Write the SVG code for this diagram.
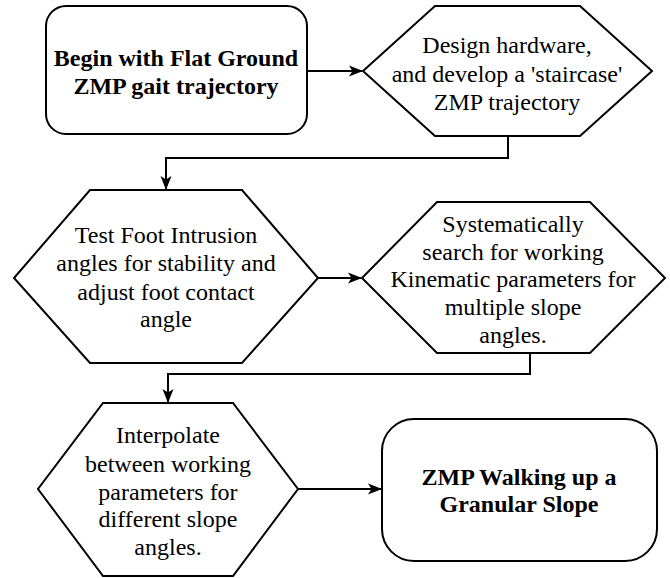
<svg xmlns="http://www.w3.org/2000/svg" width="670" height="578" viewBox="0 0 670 578">
<style>
.shape{fill:#fff;stroke:#000;stroke-width:2;stroke-linejoin:miter}
.c{fill:none;stroke:#000;stroke-width:2}
</style>
<defs>
<marker id="arr" markerUnits="userSpaceOnUse" markerWidth="14" markerHeight="12" refX="13" refY="6" orient="auto" viewBox="0 0 14 12">
<path d="M0,0.5 L14,6 L0,11.5 L3.5,6 Z" fill="#000"/>
</marker>
</defs>
<rect width="670" height="578" fill="#fff"/>
<g id="connectors">
<path class="c" d="M307,71 L362,71" marker-end="url(#arr)"/>
<path class="c" d="M508,136 L508,158 L166,158 L166,189" marker-end="url(#arr)"/>
<path class="c" d="M318,278 L361,278" marker-end="url(#arr)"/>
<path class="c" d="M530,353 L530,374 L168,374 L168,402" marker-end="url(#arr)"/>
<path class="c" d="M298,489 L381,489" marker-end="url(#arr)"/>
</g>
<g id="n1">
<rect class="shape" x="46" y="6" width="261" height="128" rx="20" ry="20"/>
<text x="176" y="66" font-family="Liberation Serif, serif" font-size="24" font-weight="bold" text-anchor="middle">Begin with Flat Ground</text>
<text x="176" y="94" font-family="Liberation Serif, serif" font-size="24" font-weight="bold" text-anchor="middle">ZMP gait trajectory</text>
</g>
<g id="n2">
<polygon class="shape" points="435,6 580,6 652,71 580,136 435,136 363,71"/>
<text x="507" y="53" font-family="Liberation Serif, serif" font-size="24" text-anchor="middle">Design hardware,</text>
<text x="507" y="82" font-family="Liberation Serif, serif" font-size="24" text-anchor="middle">and develop a 'staircase'</text>
<text x="507" y="110" font-family="Liberation Serif, serif" font-size="24" text-anchor="middle">ZMP trajectory</text>
</g>
<g id="n3">
<polygon class="shape" points="90,190 242,190 318,278 242,363 90,363 14,278"/>
<text x="166" y="243" font-family="Liberation Serif, serif" font-size="24" text-anchor="middle">Test Foot Intrusion</text>
<text x="166" y="271" font-family="Liberation Serif, serif" font-size="24" text-anchor="middle">angles for stability and</text>
<text x="166" y="300" font-family="Liberation Serif, serif" font-size="24" text-anchor="middle">adjust foot contact</text>
<text x="166" y="327" font-family="Liberation Serif, serif" font-size="24" text-anchor="middle">angle</text>
</g>
<g id="n4">
<polygon class="shape" points="437,202 590,202 665,278 590,353 437,353 362,278"/>
<text x="513" y="232" font-family="Liberation Serif, serif" font-size="24" text-anchor="middle">Systematically</text>
<text x="513" y="260" font-family="Liberation Serif, serif" font-size="24" text-anchor="middle">search for working</text>
<text x="513" y="287" font-family="Liberation Serif, serif" font-size="24" text-anchor="middle">Kinematic parameters for</text>
<text x="513" y="315" font-family="Liberation Serif, serif" font-size="24" text-anchor="middle">multiple slope</text>
<text x="513" y="343" font-family="Liberation Serif, serif" font-size="24" text-anchor="middle">angles.</text>
</g>
<g id="n5">
<polygon class="shape" points="103,403 233,403 298,489 233,576 103,576 38,489"/>
<text x="168" y="443" font-family="Liberation Serif, serif" font-size="24" text-anchor="middle">Interpolate</text>
<text x="168" y="472" font-family="Liberation Serif, serif" font-size="24" text-anchor="middle">between working</text>
<text x="168" y="500" font-family="Liberation Serif, serif" font-size="24" text-anchor="middle">parameters for</text>
<text x="168" y="527" font-family="Liberation Serif, serif" font-size="24" text-anchor="middle">different slope</text>
<text x="168" y="555" font-family="Liberation Serif, serif" font-size="24" text-anchor="middle">angles.</text>
</g>
<g id="n6">
<rect class="shape" x="382" y="419" width="275" height="142" rx="32" ry="32"/>
<text x="519" y="485" font-family="Liberation Serif, serif" font-size="24" font-weight="bold" text-anchor="middle">ZMP Walking up a</text>
<text x="519" y="512" font-family="Liberation Serif, serif" font-size="24" font-weight="bold" text-anchor="middle">Granular Slope</text>
</g>
</svg>
